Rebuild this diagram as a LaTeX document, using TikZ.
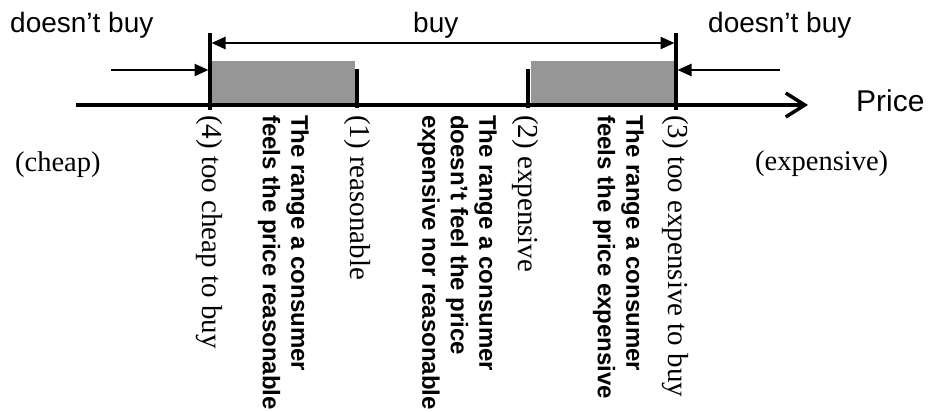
\documentclass[tikz,border=0pt]{standalone}
\usepackage{fontspec}
\setmainfont{Liberation Serif}
\setsansfont{Liberation Sans}
\usetikzlibrary{arrows.meta}
\definecolor{barfill}{RGB}{150,150,150}
\begin{document}
\begin{tikzpicture}[x=1pt,y=-1pt,
  axis/.style={line width=3.5pt},
  tickline/.style={line width=3.4pt},
  dimline/.style={line width=2.5pt},
  tri/.tip={Triangle[length=14pt,width=12pt]},
  band/.style={fill=barfill, draw=none},
  lbl/.style={font=\fontsize{28}{32}\selectfont\sffamily, inner sep=0, anchor=base west},
  serlbl/.style={font=\fontsize{28.5}{32}\selectfont, inner sep=0, anchor=base west},
  vlab/.style={rotate=-90, anchor=base west, inner sep=0, font=\fontsize{29}{32}\selectfont},
  vbold/.style={rotate=-90, anchor=north west, inner sep=0, align=left, font=\fontsize{24}{28.5}\selectfont\sffamily\bfseries},
]
\useasboundingbox (0,0) rectangle (930,412);

% shaded ranges
\fill[band] (210,61) rectangle (355,105);
\fill[band] (531,61) rectangle (676,105);

% named points
\coordinate (axL) at (76,105);
\coordinate (axR) at (808,105);
\coordinate (t4a) at (210,33);  \coordinate (t4b) at (210,110);
\coordinate (t1a) at (357,69);  \coordinate (t1b) at (357,108);
\coordinate (t2a) at (528,69);  \coordinate (t2b) at (528,108);
\coordinate (t3a) at (676,33);  \coordinate (t3b) at (676,110);
\coordinate (buyL) at (211.5,43);
\coordinate (buyR) at (674.5,43);
\coordinate (inL) at (111,70);  \coordinate (inLt) at (208.5,70);
\coordinate (inR) at (780,70);  \coordinate (inRt) at (677.5,70);

% axis
\draw[axis, -{Straight Barb[length=19pt,width=24pt]}] (axL) -- (axR);

% ticks
\draw[tickline] (t4a) -- (t4b);
\draw[tickline] (t1a) -- (t1b);
\draw[tickline] (t2a) -- (t2b);
\draw[tickline] (t3a) -- (t3b);

% arrows
\draw[dimline, tri-tri] (buyL) -- (buyR);
\draw[dimline, -tri] (inL) -- (inLt);
\draw[dimline, -tri] (inR) -- (inRt);

% top labels
\node[lbl] (dbL) at (10,33) {doesn’t buy};
\node[lbl] (buy) at (413,33) {buy};
\node[lbl] (dbR) at (708,33) {doesn’t buy};
\node[lbl, font=\fontsize{30}{34}\selectfont\sffamily] (price) at (856,111) {Price};

\node[serlbl] (cheap) at (15,171) {(cheap)};
\node[serlbl] (exp) at (755,170) {(expensive)};

% vertical labels
\node[vlab] (l4) at (202,115) {(4) too cheap to buy};
\node[vlab] (l1) at (350,115) {(1) reasonable};
\node[vlab] (l2) at (518,115) {(2) expensive};
\node[vlab] (l3) at (668,115) {(3) too expensive to buy};

\node[vbold] (rA) at (309,115) {The range a consumer\\feels the price reasonable};
\node[vbold] (rB) at (497,115) {The range a consumer\\doesn’t feel the price\\expensive nor reasonable};
\node[vbold] (rC) at (644,115) {The range a consumer\\feels the price expensive};
\end{tikzpicture}
\end{document}
